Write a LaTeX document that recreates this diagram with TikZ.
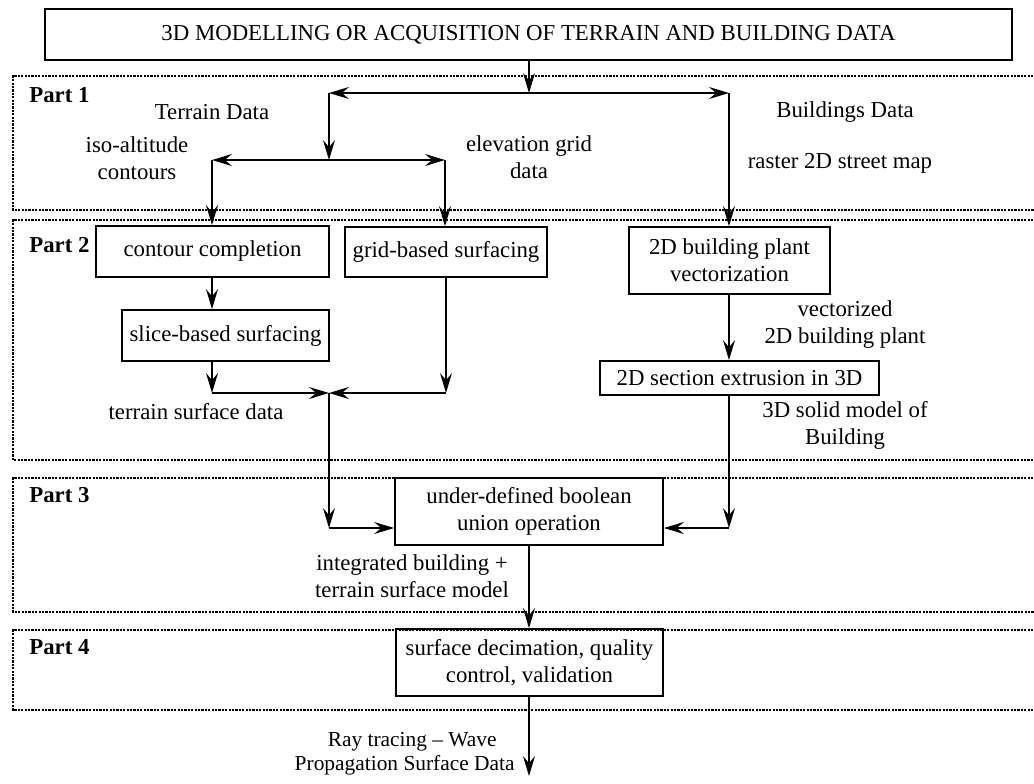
\documentclass[tikz,border=0pt]{standalone}
\usepackage{fontspec}
\setmainfont{Liberation Serif}
\usepackage{tikz}
\usetikzlibrary{arrows.meta, positioning, calc}

\begin{document}
\begin{tikzpicture}[
    x=0.5pt, y=-0.5pt,
    every node/.style={font=\fontsize{11.4}{13.5}\selectfont},
    stage/.style={rectangle, draw, line width=0.9pt, align=center, inner sep=0pt},
    label/.style={align=center, inner sep=0pt},
    partname/.style={anchor=west, inner sep=0pt, font=\fontsize{11.4}{13.5}\selectfont\bfseries},
    part/.style={line width=0.9pt, dash pattern=on 1.1pt off 0.6pt},
    arrow/.style={-{Stealth[length=10pt, width=6pt, inset=3.6pt]}, line width=0.9pt},
    line/.style={line width=0.9pt}
]
\useasboundingbox (0,0) rectangle (1034,783);

% parts
\draw[part] (1040,76) -- (13,76) -- (13,210) -- (1040,210);
\draw[part] (1040,220) -- (13,220) -- (13,460) -- (1040,460);
\draw[part] (1040,478) -- (13,478) -- (13,612) -- (1040,612);
\draw[part] (1040,630) -- (13,630) -- (13,710) -- (1040,710);
\node[partname] (p1) at (29,95) {Part 1};
\node[partname] (p2) at (29,245) {Part 2};
\node[partname] (p3) at (29,495) {Part 3};
\node[partname] (p4) at (29,647) {Part 4};

% boxes
\node[stage, minimum width=483.5pt, minimum height=25.5pt] (top) at (528.5,34.5) {3D MODELLING OR ACQUISITION OF TERRAIN AND BUILDING DATA};
\node[stage, minimum width=116.5pt, minimum height=25.5pt] (contour) at (212.5,251.5) {contour completion};
\node[stage, minimum width=101pt, minimum height=25pt] (grid) at (446,252) {grid-based surfacing};
\node[stage, minimum width=100.5pt, minimum height=33.5pt] (vector) at (729.5,260.5) {2D building plant\\vectorization};
\node[stage, minimum width=103.5pt, minimum height=25.5pt] (slice) at (225.5,335.5) {slice-based surfacing};
\node[stage, minimum width=139.5pt, minimum height=17pt] (extrude) at (739.5,378) {2D section extrusion in 3D};
\node[stage, minimum width=134pt, minimum height=33.5pt] (union) at (529,511.5) {under-defined boolean\\union operation};
\node[stage, minimum width=133.5pt, minimum height=33.5pt] (quality) at (529.5,662.5) {surface decimation, quality\\control, validation};

% labels
\node[label] (terrain) at (212,112) {Terrain Data};
\node[label] (iso) at (137,158) {iso-altitude\\contours};
\node[label] (elev) at (529,157.5) {elevation grid\\data};
\node[label] (build) at (845,112) {Buildings Data};
\node[label] (raster) at (840,163) {raster 2D street map};
\node[label] (tsurf) at (196,412) {terrain surface data};
\node[label] (vplant) at (845,325) {vectorized\\2D building plant};
\node[label] (solid) at (845,425.5) {3D solid model of\\Building};
\node[label] (integ) at (412,576.5) {integrated building +\\terrain surface model};
\node[label, anchor=east, font=\fontsize{10.7}{12.5}\selectfont] (ray1) at (497,742) {Ray tracing -- Wave};
\node[label, anchor=east, font=\fontsize{10.7}{12.5}\selectfont] (ray2) at (515,765) {Propagation Surface Data};

% junctions
\coordinate (j0) at (529,93);
\coordinate (jl) at (329,93);
\coordinate (jr) at (729,93);
\coordinate (t0) at (329,160);
\coordinate (tl) at (212,160);
\coordinate (tr) at (445,160);
\coordinate (sl) at (212,393);
\coordinate (sm) at (329,393);
\coordinate (sr) at (446,393);
\coordinate (ul) at (329,528);
\coordinate (ur) at (729,528);
\coordinate (out) at (529,776);

% connectors
\draw[arrow] (top.south -| j0) -- (j0);
\draw[arrow] (j0) -- (jl);
\draw[arrow] (j0) -- (jr);
\draw[arrow] (jl) -- (t0);
\draw[arrow] (jr) -- (vector.north -| jr);
\draw[arrow] (t0) -- (tl);
\draw[arrow] (t0) -- (tr);
\draw[arrow] (tl) -- (contour.north -| tl);
\draw[arrow] (tr) -- (grid.north -| tr);
\draw[arrow] (contour.south -| tl) -- (slice.north -| tl);
\draw[arrow] (slice.south -| sl) -- (sl);
\draw[arrow] (grid.south -| sr) -- (sr);
\draw[arrow] (sl) -- (sm);
\draw[arrow] (sr) -- (sm);
\draw[arrow] (sm) -- (ul);
\draw[arrow] (ul) -- (union.west |- ul);
\draw[arrow] (vector.south -| jr) -- (extrude.north -| jr);
\draw[arrow] (extrude.south -| ur) -- (ur);
\draw[arrow] (ur) -- (union.east |- ur);
\draw[arrow] (union.south) -- (quality.north -| union.south);
\draw[arrow] (quality.south -| out) -- (out);
\end{tikzpicture}
\end{document}
